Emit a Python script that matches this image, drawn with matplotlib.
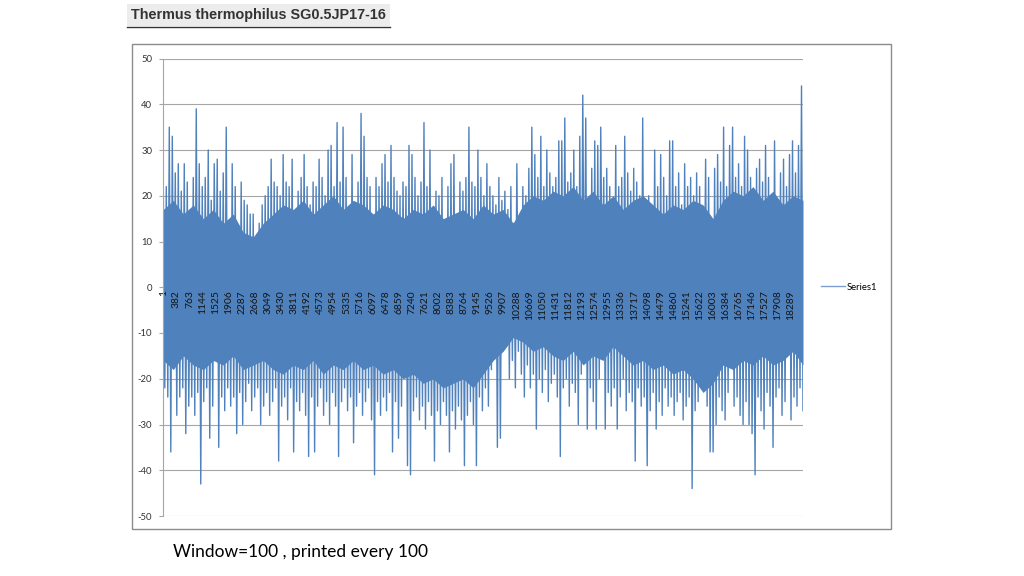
import numpy as np
import matplotlib.pyplot as plt
from matplotlib.patches import Rectangle
from matplotlib.lines import Line2D

plt.rcParams.update({
    'font.family': ['Lato', 'DejaVu Sans'],
    'axes.unicode_minus': False,
})

# ---------------- data ----------------
N_POINTS = 18636          # length of the category axis
TICK_STEP = 381           # Excel printed every 381st category label

# local maxima of the trace, left to right (one every ~3 px of the original)
upper_peaks = [
    22, 22, 35, 33, 25, 27, 21, 27, 23, 5,
    24, 39, 27, 22, 24, 30, 19, 27, 28, 21,
    25, 35, 10, 27, 22, 8, 23, 19, 18, 16,
    16, 9, 14, 18, 20, 22, 28, 23, 22, 20,
    29, 23, 22, 28, 8, 21, 24, 29, 22, 18,
    23, 22, 28, 24, 20, 30, 31, 22, 36, 23,
    35, 24, 6, 29, 9, 23, 38, 33, 24, 22,
    10, 24, 22, 27, 29, 23, 31, 24, 21, 20,
    23, 22, 31, 29, 24, 20, 23, 36, 22, 30,
    10, 21, 20, 24, 8, 22, 27, 29, 10, 23,
    21, 24, 35, 23, 22, 30, 24, 20, 27, 22,
    20, 18, 24, 19, 21, 17, 22, 14, 27, 15,
    22, 20, 26, 35, 29, 24, 33, 22, 30, 25,
    22, 24, 32, 32, 37, 23, 25, 30, 22, 33,
    42, 37, 13, 26, 32, 31, 35, 24, 26, 22,
    15, 31, 22, 24, 33, 25, 21, 26, 23, 20,
    37, 7, 20, 18, 30, 22, 29, 24, 20, 32,
    32, 22, 25, 18, 27, 22, 24, 20, 25, 22,
    6, 28, 24, 11, 26, 29, 23, 35, 22, 31,
    35, 24, 27, 22, 33, 30, 24, 12, 26, 28,
    23, 31, 24, 20, 32, 11, 25, 28, 22, 29,
    32, 25, 31, 44,
]

# local minima of the trace, left to right
lower_peaks = [
    -22, -24, -36, -15, -28, -24, -22, -32, -26, -24,
    -28, -23, -43, -25, -22, -33, -26, -12, -35, -24,
    -27, -22, -26, -24, -32, -23, -30, -25, -21, -27,
    -24, -22, -30, -26, -23, -28, -25, -22, -38, -26,
    -24, -29, -22, -36, -25, -27, -23, -28, -37, -24,
    -36, -26, -22, -28, -25, -30, -23, -26, -37, -25,
    -22, -27, -24, -34, -26, -23, -28, -25, -22, -29,
    -41, -25, -28, -24, -27, -23, -36, -25, -33, -26,
    -12, -39, -41, -27, -24, -29, -26, -31, -25, -28,
    -38, -27, -30, -25, -28, -36, -27, -31, -26, -29,
    -39, -28, -25, -30, -39, -24, -27, -22, -26, -18,
    -11, -35, -33, -8, -13, -20, -16, -22, -14, -19,
    -24, -17, -22, -19, -31, -20, -23, -18, -25, -21,
    -19, -24, -37, -22, -20, -26, -21, -23, -30, -19,
    -8, -31, -22, -25, -31, -20, -4, -31, -23, -26,
    -22, -31, -24, -20, -27, -23, -25, -38, -22, -26,
    -24, -39, -27, -23, -31, -25, -28, -22, -26, -24,
    -28, -25, -23, -29, -26, -24, -44, -27, -25, -22,
    -8, -26, -36, -36, -30, -24, -27, -29, -23, -9,
    -26, -24, -28, -30, -25, -30, -32, -41, -24, -27,
    -31, -23, -26, -35, -24, -22, -28, -25, -8, -29,
    -24, -26, -22, -27,
]

# edges of the solid (densely overdrawn) core of the trace
band_top = [
    17, 19, 16, 18, 15, 17, 14, 16, 12, 11,
    14, 16, 18, 17, 19, 16, 18, 20, 17, 19,
    18, 16, 18, 17, 15, 17, 16, 18, 15, 16,
    17, 15, 18, 16, 17, 14, 18, 20, 19, 21,
    20, 22, 19, 21, 18, 20, 17, 19, 20, 18,
    16, 18, 17, 19, 18, 15, 19, 21, 20, 22,
    19, 21, 18, 20, 19,
]
band_bottom = [
    -16, -18, -15, -17, -18, -16, -17, -15, -18, -17,
    -16, -18, -19, -17, -18, -16, -19, -17, -18, -16,
    -18, -17, -19, -18, -20, -19, -21, -20, -22, -21,
    -20, -22, -19, -16, -14, -11, -12, -14, -13, -15,
    -16, -14, -17, -15, -16, -13, -15, -17, -16, -18,
    -17, -19, -18, -20, -23, -21, -17, -18, -16, -17,
    -15, -17, -16, -14, -17,
]

y_ticks = list(range(-50, 51, 10))
title_text = 'Thermus thermophilus SG0.5JP17-16'
note_text = 'Window=100 , printed every 100'

BLUE = '#4F81BD'
GRID = '#a6a6a6'

# ---------------- build the trace ----------------
values = np.empty(len(upper_peaks) + len(lower_peaks))
values[0::2] = upper_peaks
values[1::2] = lower_peaks
index = np.linspace(1, N_POINTS, len(values))
band_index = np.linspace(1, N_POINTS, len(band_top))
cat_ticks = np.arange(1, N_POINTS, TICK_STEP)

fig = plt.figure(figsize=(10.24, 5.76), dpi=100)
W, H = 1024, 576

# chart frame (Excel chart area)
fig.add_artist(Rectangle((132 / W, 1 - 529 / H), (891 - 132) / W, (529 - 44) / H,
                         transform=fig.transFigure, fill=False,
                         edgecolor='#8c8c8c', lw=1.0))

ax = fig.add_axes([163.3 / W, 1 - 516 / H, (803 - 163.3) / W, (516 - 58.5) / H])
ax.spines['bottom'].set_position(('data', 0))
ax.spines['bottom'].set_visible(False)
ax.spines['top'].set_visible(False)
ax.spines['right'].set_visible(False)
ax.spines['left'].set_color(GRID)

# gridlines behind the data, tick labels (axis artists) stay on top
for y in y_ticks:
    ax.axhline(y, color=GRID, lw=0.8, zorder=0.5)

ax.fill_between(band_index, band_bottom, band_top, color=BLUE, lw=0, zorder=1)
ax.plot(index, values, color=BLUE, lw=1.0, zorder=1.2, label='Series1')

ax.set_xlim(1, N_POINTS)
ax.set_ylim(-50, 50)
ax.set_yticks(y_ticks)
ax.set_yticklabels([str(t) for t in y_ticks])

ax.set_xticks(cat_ticks)
ax.set_xticklabels([str(t) for t in cat_ticks])
ax.tick_params(axis='x', length=0, pad=2, labelsize=7.4, labelcolor='#141414',
               labelrotation=90)
ax.tick_params(axis='y', length=3, width=0.8, color=GRID, pad=5,
               labelsize=6.8, labelcolor='#333333')
for lab in ax.get_xticklabels():
    lab.set_verticalalignment('top')

ax.legend(handles=[Line2D([], [], color='#7a9fd0', lw=1.0)], labels=['Series1'],
          loc='center left', bbox_to_anchor=(1.028, 0.5), frameon=False,
          fontsize=6.8, handlelength=2.6, handletextpad=0.15,
          borderaxespad=0, borderpad=0)

# title strip at the top-left (screenshot of the sheet name)
fig.add_artist(Rectangle((127 / W, 1 - 26 / H), (390 - 127) / W, 22 / H,
                         transform=fig.transFigure, facecolor='#ececec',
                         edgecolor='none'))
fig.add_artist(Line2D([127 / W, 390 / W], [1 - 26.5 / H, 1 - 26.5 / H],
                      transform=fig.transFigure, color='#333333', lw=1.0))
fig.text(131 / W, 1 - 15.5 / H, title_text, fontsize=10.4, fontweight='bold',
         family=['Liberation Sans', 'DejaVu Sans'], color='#333333',
         ha='left', va='center')

fig.text(173 / W, 1 - 552 / H, note_text, fontsize=12.5, color='black',
         ha='left', va='center')

fig.savefig('out.png', dpi=100)
